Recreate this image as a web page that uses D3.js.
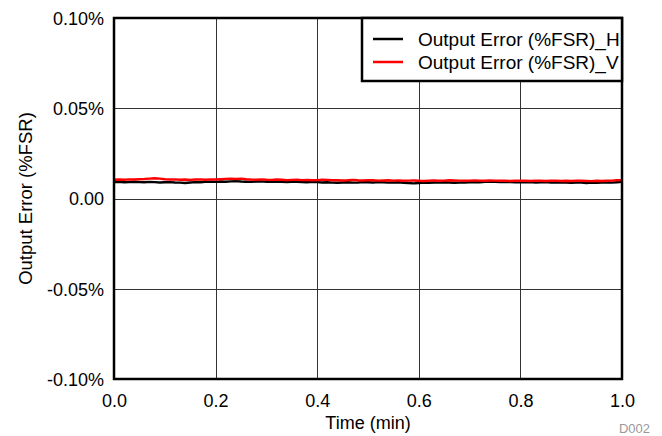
<!DOCTYPE html>
<html>
<head>
<meta charset="utf-8">
<script src="https://cdn.jsdelivr.net/npm/d3@7"></script>
<style>
  html, body { margin: 0; padding: 0; background: #fff; }
  svg text { font-family: "Liberation Sans", Arial, sans-serif; fill: #000; }
</style>
</head>
<body>
<svg id="chart" width="662" height="436"></svg>
<script>
// Time axis (minutes) and the two measured output-error traces (%FSR)
const timeMin = d3.range(0, 101).map(i => i / 100);

const errorH = [
  0.0091, 0.0092, 0.0090, 0.0091, 0.0093, 0.0091, 0.0090, 0.0092, 0.0091, 0.0089,
  0.0090, 0.0091, 0.0089, 0.0088, 0.0086, 0.0089, 0.0091, 0.0090, 0.0092, 0.0093,
  0.0092, 0.0094, 0.0093, 0.0095, 0.0096, 0.0094, 0.0093, 0.0092, 0.0094, 0.0095,
  0.0093, 0.0092, 0.0094, 0.0093, 0.0091, 0.0092, 0.0093, 0.0091, 0.0090, 0.0092,
  0.0091, 0.0089, 0.0090, 0.0088, 0.0087, 0.0089, 0.0090, 0.0088, 0.0089, 0.0091,
  0.0090, 0.0089, 0.0091, 0.0090, 0.0088, 0.0089, 0.0090, 0.0087, 0.0086, 0.0084,
  0.0086, 0.0088, 0.0087, 0.0089, 0.0088, 0.0090, 0.0089, 0.0087, 0.0088, 0.0089,
  0.0090, 0.0091, 0.0090, 0.0092, 0.0093, 0.0092, 0.0091, 0.0092, 0.0091, 0.0090,
  0.0091, 0.0090, 0.0091, 0.0089, 0.0090, 0.0091, 0.0089, 0.0088, 0.0090, 0.0089,
  0.0087, 0.0089, 0.0088, 0.0086, 0.0088, 0.0087, 0.0089, 0.0090, 0.0088, 0.0090,
  0.0092
];

const errorV = [
  0.0104, 0.0105, 0.0104, 0.0106, 0.0105, 0.0107, 0.0108, 0.0110, 0.0112, 0.0110,
  0.0107, 0.0105, 0.0106, 0.0104, 0.0105, 0.0103, 0.0105, 0.0106, 0.0104, 0.0106,
  0.0105, 0.0107, 0.0109, 0.0110, 0.0108, 0.0110, 0.0107, 0.0105, 0.0104, 0.0106,
  0.0104, 0.0103, 0.0105, 0.0104, 0.0102, 0.0103, 0.0104, 0.0102, 0.0103, 0.0101,
  0.0102, 0.0104, 0.0103, 0.0101, 0.0102, 0.0100, 0.0101, 0.0103, 0.0101, 0.0100,
  0.0102, 0.0101, 0.0099, 0.0100, 0.0101, 0.0099, 0.0100, 0.0098, 0.0099, 0.0100,
  0.0098, 0.0097, 0.0099, 0.0100, 0.0098, 0.0099, 0.0101, 0.0100, 0.0099, 0.0098,
  0.0099, 0.0100, 0.0099, 0.0098, 0.0100, 0.0099, 0.0098, 0.0099, 0.0097, 0.0098,
  0.0099, 0.0098, 0.0097, 0.0099, 0.0098, 0.0097, 0.0098, 0.0099, 0.0097, 0.0098,
  0.0097, 0.0099, 0.0098, 0.0097, 0.0096, 0.0098, 0.0097, 0.0098, 0.0099, 0.0101,
  0.0102
];

const xTicks = [0, 0.2, 0.4, 0.6, 0.8, 1.0];
const xTickLabels = ["0.0", "0.2", "0.4", "0.6", "0.8", "1.0"];
const yTicks = [0.10, 0.05, 0, -0.05, -0.10];
const yTickLabels = ["0.10%", "0.05%", "0.00", "-0.05%", "-0.10%"];

const seriesNames = ["Output Error (%FSR)_H", "Output Error (%FSR)_V"];
const seriesColors = ["#000000", "#ff0000"];

const svg = d3.select("#chart");
const margin = { left: 114, top: 18, right: 40, bottom: 57 };
const W = 662, H = 436;
const pw = W - margin.left - margin.right;   // 508
const ph = H - margin.top - margin.bottom;   // 361

const x = d3.scaleLinear().domain([0, 1]).range([0, pw]);
const y = d3.scaleLinear().domain([-0.10, 0.10]).range([ph, 0]);

const g = svg.append("g").attr("transform", `translate(${margin.left},${margin.top})`);

// Grid
g.append("g").selectAll("line.vx").data(xTicks.slice(1, -1)).join("line")
  .attr("x1", d => Math.round(x(d)) + 0.5).attr("x2", d => Math.round(x(d)) + 0.5)
  .attr("y1", 0).attr("y2", ph)
  .attr("stroke", "#333").attr("stroke-width", 1);
g.append("g").selectAll("line.hy").data(yTicks.slice(1, -1)).join("line")
  .attr("y1", d => Math.round(y(d)) + 0.5).attr("y2", d => Math.round(y(d)) + 0.5)
  .attr("x1", 0).attr("x2", pw)
  .attr("stroke", "#333").attr("stroke-width", 1);

// Traces
const line = d3.line().x((d, i) => x(timeMin[i])).y(d => y(d));
[errorH, errorV].forEach((s, k) => {
  g.append("path").datum(s)
    .attr("d", line)
    .attr("fill", "none")
    .attr("stroke", seriesColors[k])
    .attr("stroke-width", 2.4)
    .attr("stroke-linejoin", "round");
});

// Frame
g.append("rect").attr("x", 0).attr("y", 0).attr("width", pw).attr("height", ph)
  .attr("fill", "none").attr("stroke", "#000").attr("stroke-width", 2.5);

// Axes labels
const xAxis = d3.axisBottom(x).tickValues(xTicks).tickFormat((d, i) => xTickLabels[i])
  .tickSize(0).tickPadding(0);
const xg = g.append("g").attr("transform", `translate(0,${ph})`).call(xAxis);
xg.select(".domain").remove();
xg.selectAll("text").attr("y", 28).attr("dy", null)
  .attr("font-size", 18).attr("font-family", "Liberation Sans, Arial, sans-serif").attr("fill", "#000");

const yAxis = d3.axisLeft(y).tickValues(yTicks).tickFormat((d, i) => yTickLabels[i])
  .tickSize(0).tickPadding(0);
const yg = g.append("g").call(yAxis);
yg.select(".domain").remove();
yg.selectAll("text").attr("x", -10).attr("dy", "0.35em")
  .attr("font-size", 18).attr("font-family", "Liberation Sans, Arial, sans-serif").attr("fill", "#000");

// Axis titles
svg.append("text").attr("x", margin.left + pw / 2).attr("y", 429)
  .attr("text-anchor", "middle").attr("font-size", 18).text("Time (min)");
svg.append("text")
  .attr("transform", `translate(32,${margin.top + ph / 2}) rotate(-90)`)
  .attr("text-anchor", "middle").attr("font-size", 18.5).text("Output Error (%FSR)");

// Figure id
svg.append("text").attr("x", 650).attr("y", 433).attr("text-anchor", "end")
  .attr("font-size", 13).style("fill", "#9a9a9a").text("D002");

// Legend
const lg = g.append("g").attr("transform", `translate(${362 - margin.left},0)`);
lg.append("rect").attr("x", 0).attr("y", 0).attr("width", pw - (362 - margin.left)).attr("height", 63)
  .attr("fill", "#fff").attr("stroke", "#000").attr("stroke-width", 2.5);
seriesNames.forEach((name, k) => {
  const cy = 21 + k * 23;
  lg.append("line").attr("x1", 11).attr("x2", 41).attr("y1", cy).attr("y2", cy)
    .attr("stroke", seriesColors[k]).attr("stroke-width", 2.5);
  lg.append("text").attr("x", 56).attr("y", cy).attr("dy", "0.35em")
    .attr("font-size", 19).text(name);
});
</script>
</body>
</html>
